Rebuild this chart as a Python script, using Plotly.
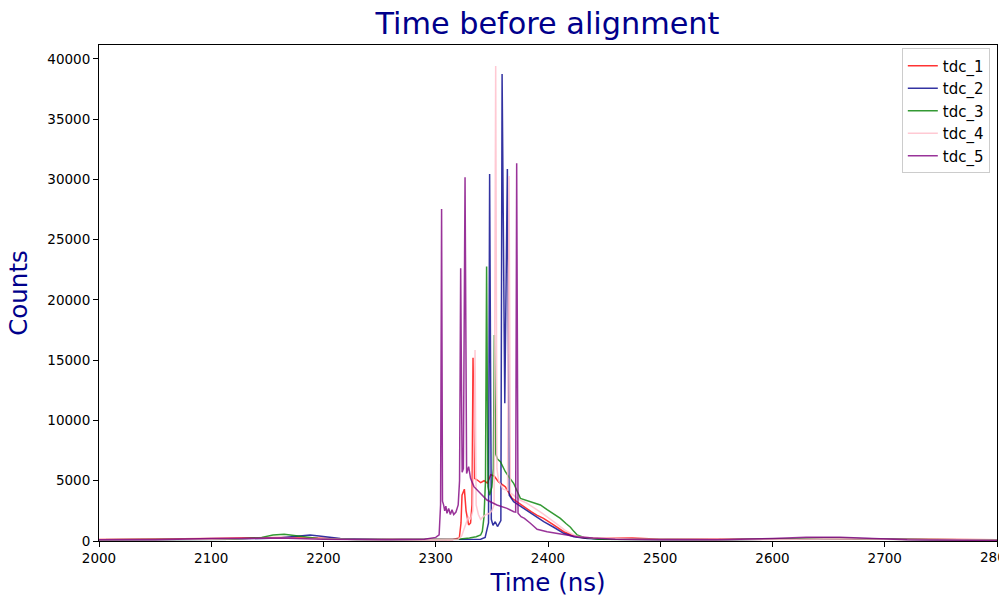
import plotly.graph_objects as go

# ---- data ----
tdc1_x = [2000, 2050, 2100, 2140, 2165, 2190, 2230, 2280, 2315, 2321, 2322.5, 2323.4, 2325.5, 2327, 2329.3, 2331,
          2332.3, 2333.2, 2334.5, 2337, 2340, 2343, 2346, 2349, 2352, 2356, 2362, 2368, 2376, 2385, 2390, 2396,
          2405, 2414, 2423, 2432, 2445, 2460, 2475, 2500, 2550, 2600, 2640, 2680, 2720, 2800]
tdc1_y = [120, 130, 200, 280, 300, 250, 150, 120, 130, 250, 1500, 3800, 4300, 2500, 1330, 1500,
          3000, 15210, 5200, 5060, 4850, 5000, 4800, 5500, 5400, 4900, 4500, 3540, 2990, 2430, 2150, 1880,
          1330, 770, 415, 250, 200, 250, 250, 150, 120, 150, 200, 180, 120, 100]

tdc2_x = [2000, 2060, 2120, 2160, 2178, 2188, 2196, 2215, 2260, 2320, 2340, 2344, 2346, 2347, 2348, 2349.5,
          2351, 2353, 2355, 2357, 2358, 2359.1, 2361.5, 2363.8, 2365.5, 2369.4, 2375, 2378.3, 2387.3, 2396.2,
          2405.1, 2414, 2423, 2435, 2450, 2500, 2560, 2620, 2650, 2690, 2740, 2800]
tdc2_y = [100, 110, 150, 250, 450, 500, 420, 200, 120, 120, 150, 300, 1200, 1500, 30460, 1800,
          1300, 1600, 1200, 1500, 1700, 38760, 11430, 30870, 3800, 3260, 2900, 2710, 2160, 1600,
          1140, 640, 360, 200, 150, 100, 100, 180, 230, 180, 100, 80]

tdc3_x = [2000, 2060, 2120, 2145, 2155, 2165, 2175, 2195, 2230, 2280, 2320, 2330, 2336, 2340, 2341.5, 2343,
          2344.3, 2345.3, 2346.5, 2348, 2350, 2351.3, 2352.2, 2353.5, 2355, 2357.6, 2362, 2365, 2369.4, 2375.4,
          2384.3, 2393.2, 2399.2, 2402.1, 2411, 2416, 2420, 2423, 2426, 2432, 2445, 2480, 2550, 2620, 2660,
          2700, 2800]
tdc3_y = [100, 120, 150, 300, 500, 550, 450, 200, 120, 120, 150, 250, 350, 500, 800, 2000,
          5000, 22770, 4500, 3800, 4500, 6000, 17100, 7200, 6800, 6580, 5750, 5340, 4790, 3540,
          3260, 2990, 2600, 2430, 1880, 1450, 1140, 800, 500, 300, 150, 120, 100, 180, 220,
          150, 80]

tdc4_x = [2000, 2100, 2160, 2220, 2300, 2320, 2323, 2326, 2329, 2331, 2333, 2334, 2335, 2336, 2338, 2340,
          2342, 2345, 2348, 2350, 2352, 2353.4, 2354.5, 2356, 2358, 2360, 2364, 2365.3, 2366.5, 2369, 2375,
          2380, 2385, 2395, 2405, 2415, 2425, 2440, 2480, 2550, 2620, 2660, 2700, 2800]
tdc4_y = [100, 150, 250, 150, 100, 150, 400, 1200, 2000, 1800, 2500, 9000, 15850, 3000, 2200, 1800,
          2000, 2200, 2300, 2500, 3000, 39420, 6000, 5000, 4600, 4300, 4200, 30290, 4000, 3800, 3400,
          3200, 2900, 2300, 1600, 900, 400, 250, 150, 100, 150, 200, 150, 80]

tdc5_x = [2000, 2050, 2100, 2130, 2160, 2200, 2250, 2290, 2300, 2303, 2304.3, 2305.2, 2306, 2307, 2308, 2309,
          2310, 2311.5, 2313, 2314.5, 2316, 2318, 2320, 2321.2, 2322.2, 2323.5, 2324.6, 2326.1, 2327.5, 2329.3,
          2331, 2334, 2339.7, 2345.6, 2354.5, 2363.5, 2369.5, 2371.2, 2372.1, 2373.3, 2376, 2379, 2384.3, 2388,
          2390.3, 2399.2, 2408.1, 2417, 2426, 2440, 2460, 2500, 2550, 2600, 2630, 2660, 2690, 2720, 2800]
tdc5_y = [100, 100, 200, 250, 250, 150, 100, 150, 300, 500, 3000, 27550, 3300, 3000, 2500, 2900,
          2300, 2700, 2200, 2600, 2200, 2400, 3000, 5000, 22630, 5700, 6000, 30180, 5600, 6170,
          5200, 4510, 3960, 3400, 2990, 2710, 2430, 2400, 31350, 2300, 2020, 1880, 1470, 1150,
          970, 770, 640, 500, 360, 250, 150, 100, 100, 200, 320, 320, 200, 100, 50]

series_names = ["tdc_1", "tdc_2", "tdc_3", "tdc_4", "tdc_5"]
series_colors = ["rgba(255,0,0,0.8)", "rgba(0,0,139,0.8)", "rgba(0,128,0,0.8)",
                 "rgba(255,192,203,0.85)", "rgba(128,0,128,0.8)"]
xs = [tdc1_x, tdc2_x, tdc3_x, tdc4_x, tdc5_x]
ys = [tdc1_y, tdc2_y, tdc3_y, tdc4_y, tdc5_y]

x_ticks = list(range(2000, 2801, 100))
y_ticks = list(range(0, 40001, 5000))

tick_font = dict(family="DejaVu Sans", size=13.5, color="black")

fig = go.Figure()
for name, col, x, y in zip(series_names, series_colors, xs, ys):
    fig.add_trace(go.Scatter(x=x, y=y, mode="lines", name=name,
                             line=dict(color=col, width=1.5)))

axis_common = dict(showline=True, linecolor="black", linewidth=1, mirror=True,
                   ticks="outside", ticklen=5, tickcolor="black", showgrid=False,
                   zeroline=False, automargin=False, tickfont=tick_font)

fig.update_layout(
    width=999, height=597,
    margin=dict(l=99, r=2, t=45, b=56, autoexpand=False),
    paper_bgcolor="white", plot_bgcolor="white",
    title=dict(text="Time before alignment", x=0.548, xanchor="center", y=0.961, yanchor="middle",
               font=dict(family="DejaVu Sans", size=30.3, color="#00008b")),
    xaxis=dict(range=[2000, 2800], tickvals=x_ticks, tickformat="d",
               title=dict(text="Time (ns)", standoff=8,
                          font=dict(family="DejaVu Sans", size=24.5, color="#00008b")),
               **axis_common),
    yaxis=dict(range=[0, 41160], tickvals=y_ticks, tickformat="d",
               title=dict(text="Counts", standoff=12,
                          font=dict(family="DejaVu Sans", size=24.5, color="#00008b")),
               **axis_common),
    legend=dict(x=0.992, y=0.993, xanchor="right", yanchor="top",
                bgcolor="rgba(255,255,255,0.8)", bordercolor="#cccccc", borderwidth=1,
                font=dict(family="DejaVu Sans", size=15, color="black"),
                tracegroupgap=0, itemwidth=30),
    showlegend=True,
)

# the last tick label sits on the right edge and is partly cut off, as in the reference
fig.add_annotation(x=x_ticks[-1], y=0, xref="x", yref="paper", yanchor="top", xanchor="center",
                   yshift=-6, text=str(x_ticks[-1]), showarrow=False, font=tick_font)

fig.write_html("out.html", config={"displayModeBar": False},
               post_script="document.body.style.margin='0';document.body.style.overflow='hidden';")
